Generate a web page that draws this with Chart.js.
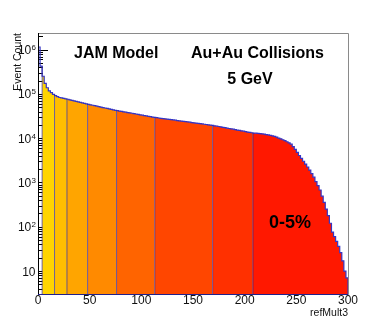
<!DOCTYPE html>
<html>
<head>
<meta charset="utf-8">
<script src="https://cdn.jsdelivr.net/npm/chart.js@4.4.0/dist/chart.umd.min.js"></script>
<style>
  html, body { margin: 0; padding: 0; background: #fff; }
  canvas { display: block; }
</style>
</head>
<body>
<canvas id="MultChart" width="388" height="326"></canvas>
<script>
// refMult3 histogram, 2-unit bins starting at 0
const binStart = 0;
const binWidth = 2;
const counts = [
    1150000, 427000, 251000, 174000, 138000, 117000, 107000, 97700, 91200, 87100,
    83200, 81300, 79400, 77600, 75900, 73800, 71800, 70000, 68200, 66400,
    64600, 63100, 61400, 59700, 58200, 56900, 55600, 54200, 53000, 51600,
    50500, 49300, 48100, 47000, 45800, 44800, 43700, 42700, 41900, 41000,
    40300, 39400, 38700, 38000, 37200, 36600, 35800, 35200, 34400, 33800,
    33100, 32500, 31900, 31300, 30700, 30100, 29500, 29100, 28600, 28200,
    27800, 27400, 27000, 26600, 26200, 25900, 25500, 25100, 24700, 24400,
    24000, 23700, 23300, 23000, 22600, 22300, 22000, 21700, 21300, 21000,
    20700, 20400, 20100, 19800, 19500, 19100, 18700, 18400, 18000, 17600,
    17300, 16900, 16600, 16300, 16000, 15600, 15300, 15000, 14700, 14400,
    14100, 13800, 13600, 13300, 13100, 13000, 12900, 12700, 12600, 12400,
    12100, 11900, 11600, 11300, 11000, 10600, 10100, 9670, 9230, 8810,
    8320, 7850, 7330, 6460, 5620, 4790, 4070, 3510, 3020, 2600,
    2240, 1910, 1580, 1320, 1050, 851, 676, 490, 355, 251,
    178, 120, 76, 60, 47, 36, 26, 17, 10, 7
];

// centrality class edges in refMult3 (most peripheral -> 0-5%)
const centralityEdges = [4, 16, 28, 48, 76, 113, 169, 208, 300];
const centralityColors = ['#ffd400', '#ffbe00', '#ffa500', '#ff8a00', '#ff6400', '#ff4600', '#ff3000', '#ff1800'];

const xTicks = [0, 50, 100, 150, 200, 250, 300];
const yTicks = [10, 1e2, 1e3, 1e4, 1e5, 1e6];
const yTickExp = ['', '2', '3', '4', '5', '6'];

const xMin = 0, xMax = 300;
const yMin = 3.03, yMax = 2.38e6;

function countAt(x) {
    let i = Math.floor((x - binStart) / binWidth);
    i = Math.max(0, Math.min(counts.length - 1, i));
    return counts[i];
}

// histogram outline as explicit steps
const outline = [{x: binStart, y: yMin}];
counts.forEach((c, i) => {
    outline.push({x: binStart + i * binWidth, y: c});
    outline.push({x: binStart + (i + 1) * binWidth, y: c});
});
outline.push({x: binStart + counts.length * binWidth, y: yMin});

// one filled dataset per centrality class
const bandSets = [];
for (let k = 0; k < centralityEdges.length - 1; k++) {
    const a = centralityEdges[k], b = centralityEdges[k + 1];
    const pts = [];
    let x = a;
    while (x < b) {
        const next = Math.min(b, (Math.floor((x - binStart) / binWidth) + 1) * binWidth + binStart);
        const c = countAt(x);
        pts.push({x: x, y: c});
        pts.push({x: next, y: c});
        x = next;
    }
    bandSets.push({
        data: pts,
        fill: 'start',
        backgroundColor: centralityColors[k],
        borderWidth: 0,
        pointRadius: 0,
        tension: 0,
        order: 2
    });
}

const rootStyle = {
    id: 'rootStyle',
    beforeDatasetsDraw(chart) {
        const {ctx, chartArea: ca, scales: {y}} = chart;
        ctx.save();
        ctx.strokeStyle = '#000';
        ctx.lineWidth = 1;
        for (let d = 0; d <= 6; d++) {
            for (let m = 1; m <= 9; m++) {
                const v = m * Math.pow(10, d);
                if (v < yMin || v > yMax) continue;
                const py = Math.round(y.getPixelForValue(v)) + 0.5;
                const len = m === 1 ? 10 : 5;
                ctx.beginPath();
                ctx.moveTo(ca.left, py);
                ctx.lineTo(ca.left + len, py);
                ctx.stroke();
            }
        }
        ctx.restore();
    },
    afterDatasetsDraw(chart) {
        const {ctx, chartArea: ca, scales: {x, y}} = chart;
        ctx.save();
        ctx.strokeStyle = 'rgba(45, 40, 150, 0.7)';
        ctx.lineWidth = 1;
        centralityEdges.slice(0, -1).forEach(e => {
            const px = x.getPixelForValue(e);
            const top = Math.max(countAt(e - 0.01), countAt(e + 0.01));
            ctx.beginPath();
            ctx.moveTo(px, y.getPixelForValue(top));
            ctx.lineTo(px, ca.bottom);
            ctx.stroke();
        });
        ctx.restore();
    },
    afterDraw(chart) {
        const {ctx, chartArea: ca, scales: {x, y}} = chart;
        ctx.save();
        // frame
        ctx.lineWidth = 1;
        ctx.strokeStyle = '#8a8a8a';
        ctx.beginPath();
        ctx.moveTo(ca.left, ca.top + 0.5);
        ctx.lineTo(ca.right + 0.5, ca.top + 0.5);
        ctx.lineTo(ca.right + 0.5, ca.bottom);
        ctx.stroke();
        ctx.strokeStyle = '#000';
        ctx.beginPath();
        ctx.moveTo(ca.left + 0.5, ca.top);
        ctx.lineTo(ca.left + 0.5, ca.bottom);
        ctx.stroke();
        ctx.strokeStyle = '#20208a';
        ctx.beginPath();
        ctx.moveTo(ca.left, ca.bottom + 0.5);
        ctx.lineTo(ca.right + 0.5, ca.bottom + 0.5);
        ctx.stroke();

        ctx.fillStyle = '#111';
        // y tick labels 10^n
        yTicks.forEach((v, i) => {
            const py = y.getPixelForValue(v);
            if (yTickExp[i] === '') {
                ctx.font = '12px "Liberation Sans", Arial, sans-serif';
                ctx.textAlign = 'right';
                ctx.fillText('10', 35.5, py + 4.5);
            } else {
                ctx.font = '8px "Liberation Sans", Arial, sans-serif';
                ctx.textAlign = 'right';
                ctx.fillText(yTickExp[i], 36, py + 0.5);
                const ew = ctx.measureText(yTickExp[i]).width;
                ctx.font = '12px "Liberation Sans", Arial, sans-serif';
                ctx.fillText('10', 36 - ew - 0.3, py + 4.5);
            }
        });
        // x tick labels
        ctx.font = '12px "Liberation Sans", Arial, sans-serif';
        ctx.textAlign = 'center';
        xTicks.forEach(v => {
            ctx.fillText(String(v), x.getPixelForValue(v), 303.5);
        });
        // axis titles
        ctx.font = '10.5px "Liberation Sans", Arial, sans-serif';
        ctx.textAlign = 'right';
        ctx.fillText('refMult3', 348, 316);
        ctx.save();
        ctx.translate(20.5, 33);
        ctx.rotate(-Math.PI / 2);
        ctx.fillText('Event Count', 0, 0);
        ctx.restore();

        // labels
        ctx.fillStyle = '#000';
        ctx.font = 'bold 16px "Liberation Sans", Arial, sans-serif';
        ctx.textAlign = 'left';
        ctx.fillText('JAM Model', 74, 58);
        ctx.fillText('Au+Au Collisions', 191, 58);
        ctx.textAlign = 'center';
        ctx.fillText('5 GeV', 250, 84);
        ctx.font = 'bold 18px "Liberation Sans", Arial, sans-serif';
        ctx.textAlign = 'left';
        ctx.fillText('0-5%', 269, 228);
        ctx.restore();
    }
};

const config_Mult = {
    type: 'line',
    data: {
        datasets: [{
            data: outline,
            fill: false,
            borderColor: '#3535c4',
            borderWidth: 1.2,
            pointRadius: 0,
            tension: 0,
            order: 0
        }].concat(bandSets)
    },
    options: {
        responsive: false,
        animation: false,
        events: [],
        layout: {
            padding: {left: 38, right: 40, top: 33, bottom: 32}
        },
        scales: {
            x: {
                type: 'linear',
                display: false,
                min: xMin,
                max: xMax
            },
            y: {
                type: 'logarithmic',
                display: false,
                min: yMin,
                max: yMax
            }
        },
        plugins: {
            legend: {display: false},
            tooltip: {enabled: false}
        }
    },
    plugins: [rootStyle]
};

const myChart_Mult = new Chart(
    document.getElementById('MultChart'),
    config_Mult
);
</script>
</body>
</html>
